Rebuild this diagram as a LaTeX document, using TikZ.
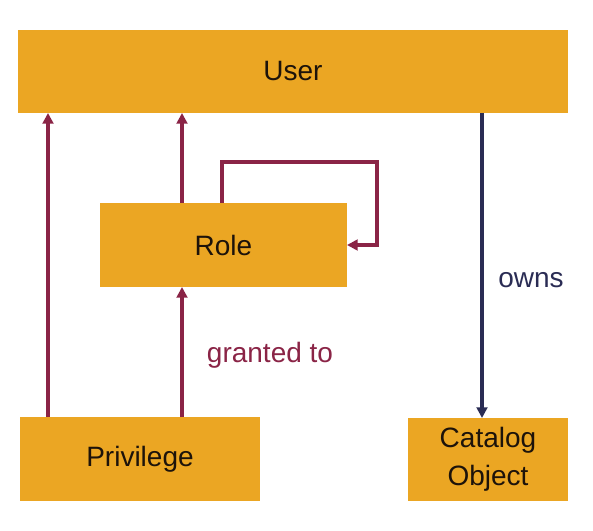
\documentclass[tikz,border=0pt]{standalone}
\usepackage{fontspec}
\setmainfont{Liberation Sans}
\usetikzlibrary{positioning,arrows.meta}

\definecolor{boxorange}{RGB}{235,166,35}
\definecolor{grantred}{RGB}{138,36,70}
\definecolor{ownsblue}{RGB}{42,44,84}

\tikzstyle{EntityBox} = [fill=boxorange, inner sep=0pt, outer sep=0pt, text=black!85!brown, align=center, font=\fontsize{21}{28.5}\selectfont]
\tikzstyle{grant} = [draw=grantred, line width=2.4pt, -{Triangle[length=8pt,width=8pt]}]
\tikzstyle{owns} = [draw=ownsblue, line width=2.4pt, -{Triangle[length=8pt,width=8pt]}]

\begin{document}
\begin{tikzpicture}[x=0.75pt, y=-0.75pt]
    \useasboundingbox (0,0) rectangle (593,531);

    \node[EntityBox, minimum width=412.5pt, minimum height=62.25pt] (user) at (293,71.5) {User};
    \node[EntityBox, minimum width=185.25pt, minimum height=63pt] (role) [below right = 67.5pt and 61.5pt of user.south west] {Role};
    \node[EntityBox, minimum width=180pt, minimum height=63pt] (privilege) [below right = 228pt and 1.5pt of user.south west] {Privilege};
    \node[EntityBox, minimum width=120pt, minimum height=62.25pt] (catalog) [below left = 228.75pt and 0pt of user.south east] {Catalog\\Object};

    % columns of the connectors
    \coordinate (col1) at (48,0);
    \coordinate (col2) at (182,0);
    \coordinate (col3) at (222,0);
    \coordinate (col4) at (482,0);
    \coordinate (loop) at (377,162);

    \draw[grant] (privilege.north -| col1) -- (user.south -| col1);
    \draw[grant] (role.north -| col2) -- (user.south -| col2);
    \draw[grant] (privilege.north -| col2) -- (role.south -| col2);
    \draw[grant] (role.north -| col3) |- (loop) |- (role.east);
    \draw[owns] (user.south -| col4) -- (catalog.north -| col4);

    \node[text=grantred, font=\fontsize{21}{25}\selectfont] (grantlabel) at (270,355) {granted to};
    \node[text=ownsblue, font=\fontsize{21}{25}\selectfont] (ownslabel) at (531,280) {owns};
\end{tikzpicture}
\end{document}
